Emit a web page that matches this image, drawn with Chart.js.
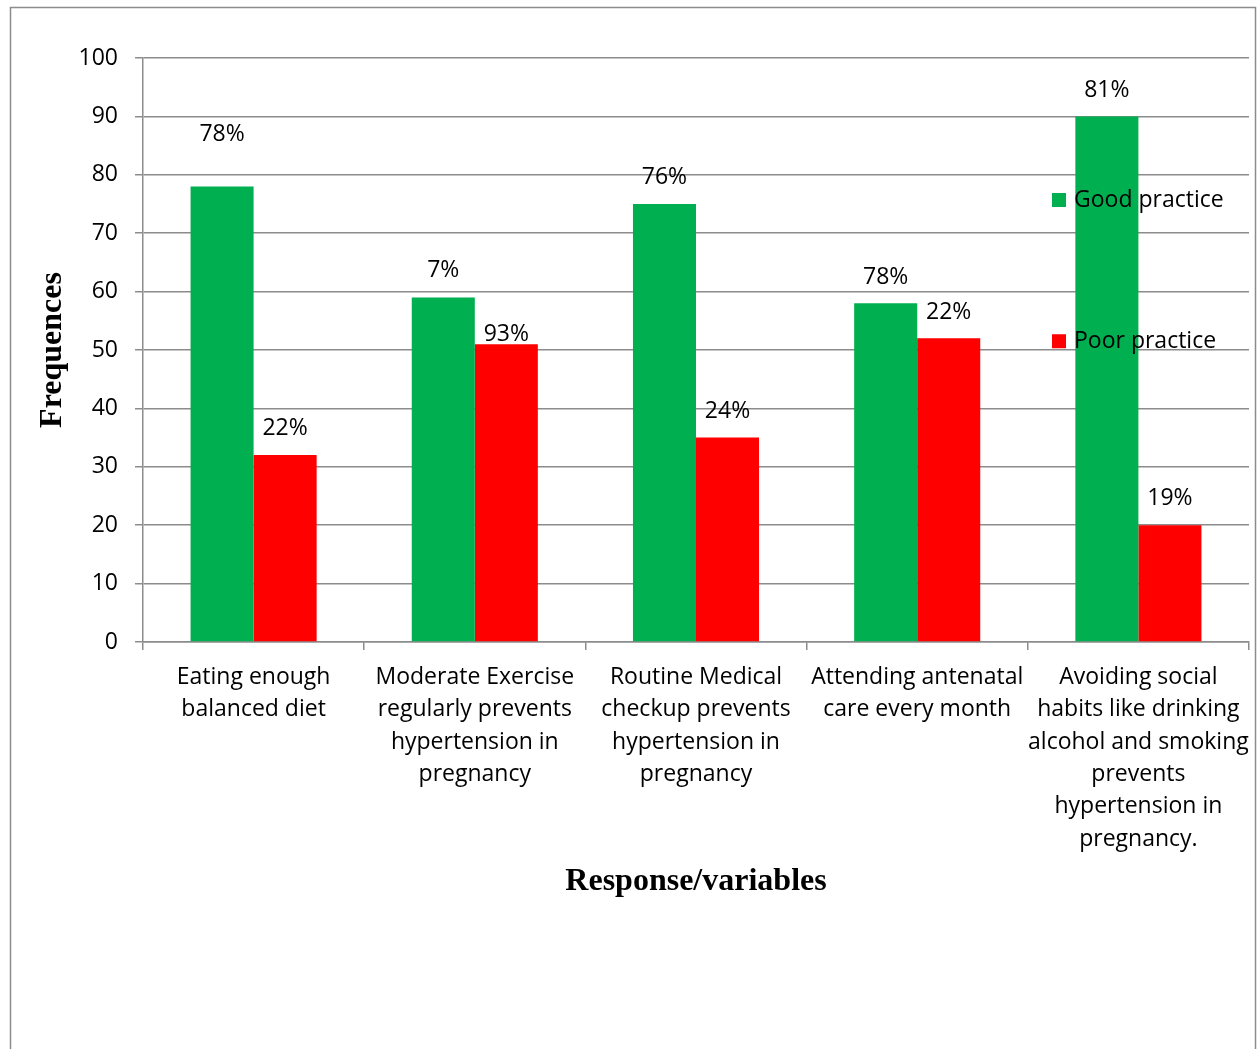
<!DOCTYPE html>
<html>
<head>
<meta charset="utf-8">
<title>Practice chart</title>
<script src="https://cdn.jsdelivr.net/npm/chart.js@4.4.1/dist/chart.umd.min.js"></script>
<style>
    html, body { margin: 0; padding: 0; background: #fff; }
    canvas { display: block; }
</style>
</head>
<body>
<canvas id="practiceChart" width="1257" height="1049"></canvas>
<script>
// Chart data
const categories = [
    ["Eating enough", "balanced diet"],
    ["Moderate Exercise", "regularly prevents", "hypertension in", "pregnancy"],
    ["Routine Medical", "checkup prevents", "hypertension in", "pregnancy"],
    ["Attending antenatal", "care every month"],
    ["Avoiding social", "habits like drinking", "alcohol and smoking", "prevents", "hypertension in", "pregnancy."]
];
const goodPractice = [78, 59, 75, 58, 90];
const poorPractice = [32, 51, 35, 52, 20];
const goodLabels = ["78%", "7%", "76%", "78%", "81%"];
const poorLabels = ["22%", "93%", "24%", "22%", "19%"];
const yTicks = [0, 10, 20, 30, 40, 50, 60, 70, 80, 90, 100];

const FONT = "'Open Sans', 'Noto Sans', sans-serif";
const SERIF = "'Liberation Serif', 'Times New Roman', serif";
const GRID = '#8c8c8c';

// how far above each bar top its label sits (the original nudged a couple)
const labelLift = {
    0: [52, 27, 27, 26, 26],
    1: [27, 10, 26, 26, 27]
};

// percentage labels over the bars
const barLabels = {
    id: 'barLabels',
    afterDatasetsDraw(chart) {
        const ctx = chart.ctx;
        const texts = [goodLabels, poorLabels];
        ctx.save();
        ctx.font = '23px ' + FONT;
        ctx.fillStyle = '#000';
        ctx.textAlign = 'center';
        ctx.textBaseline = 'middle';
        chart.data.datasets.forEach(function(ds, i) {
            chart.getDatasetMeta(i).data.forEach(function(bar, j) {
                ctx.fillText(texts[i][j], bar.x, bar.y - labelLift[i][j]);
            });
        });
        ctx.restore();
    }
};

// legend on the right, drawn over the last bar like the original
const sideLegend = {
    id: 'sideLegend',
    afterDraw(chart) {
        const ctx = chart.ctx;
        const yScale = chart.scales.y;
        const rows = [
            { text: 'Good practice', color: '#00B050', y: yScale.getPixelForValue(75) - 4 },
            { text: 'Poor practice', color: '#FF0000', y: yScale.getPixelForValue(51.5) }
        ];
        ctx.save();
        ctx.font = '23px ' + FONT;
        ctx.textBaseline = 'middle';
        ctx.textAlign = 'left';
        rows.forEach(function(r) {
            ctx.fillStyle = r.color;
            ctx.fillRect(1052, r.y - 7, 14, 14);
            ctx.fillStyle = '#000';
            ctx.fillText(r.text, 1074, r.y);
        });
        ctx.restore();
    }
};

// outer frame
const frame = {
    id: 'frame',
    beforeDraw(chart) {
        const ctx = chart.ctx;
        ctx.save();
        ctx.fillStyle = '#fff';
        ctx.fillRect(0, 0, chart.width, chart.height);
        ctx.strokeStyle = '#8c8c8c';
        ctx.lineWidth = 1.5;
        ctx.strokeRect(10.5, 7.5, 1245, 1100);
        ctx.restore();
    }
};

const ctx = document.getElementById('practiceChart').getContext('2d');
new Chart(ctx, {
    type: 'bar',
    data: {
        labels: categories,
        datasets: [{
            label: 'Good practice',
            data: goodPractice,
            backgroundColor: '#00B050',
            categoryPercentage: 0.57,
            barPercentage: 1.0
        }, {
            label: 'Poor practice',
            data: poorPractice,
            backgroundColor: '#FF0000',
            categoryPercentage: 0.57,
            barPercentage: 1.0
        }]
    },
    options: {
        responsive: false,
        animation: false,
        layout: {
            padding: { top: 58, right: 8, bottom: 148, left: 34 }
        },
        scales: {
            x: {
                grid: {
                    offset: true,
                    drawOnChartArea: false,
                    drawTicks: true,
                    tickLength: 8,
                    color: GRID,
                    lineWidth: 1.5
                },
                border: { color: GRID, width: 1.5 },
                ticks: {
                    autoSkip: false,
                    maxRotation: 0,
                    minRotation: 0,
                    padding: 11,
                    color: '#000',
                    font: { family: FONT, size: 23, lineHeight: 1.41 }
                },
                title: {
                    display: true,
                    text: 'Response/variables',
                    color: '#000',
                    padding: 0,
                    font: { family: SERIF, size: 32, weight: 'bold' }
                },
                afterFit(scale) {
                    scale.height = 259;
                    // let the last label run to the edge instead of shrinking the plot
                    scale.paddingLeft = 0;
                    scale.paddingRight = 0;
                }
            },
            y: {
                min: 0,
                max: 100,
                afterBuildTicks(scale) {
                    scale.ticks = yTicks.map(v => ({ value: v }));
                },
                grid: {
                    color: GRID,
                    lineWidth: 1.5,
                    tickLength: 8
                },
                border: { color: GRID, width: 1.5 },
                ticks: {
                    padding: 17,
                    color: '#000',
                    font: { family: FONT, size: 23 }
                },
                title: {
                    display: true,
                    text: 'Frequences',
                    color: '#000',
                    padding: 0,
                    font: { family: SERIF, size: 32, weight: 'bold' }
                },
                afterFit(scale) { scale.width = 109; }
            }
        },
        plugins: {
            legend: { display: false },
            tooltip: { enabled: false }
        }
    },
    plugins: [frame, barLabels, sideLegend]
});
</script>
</body>
</html>
